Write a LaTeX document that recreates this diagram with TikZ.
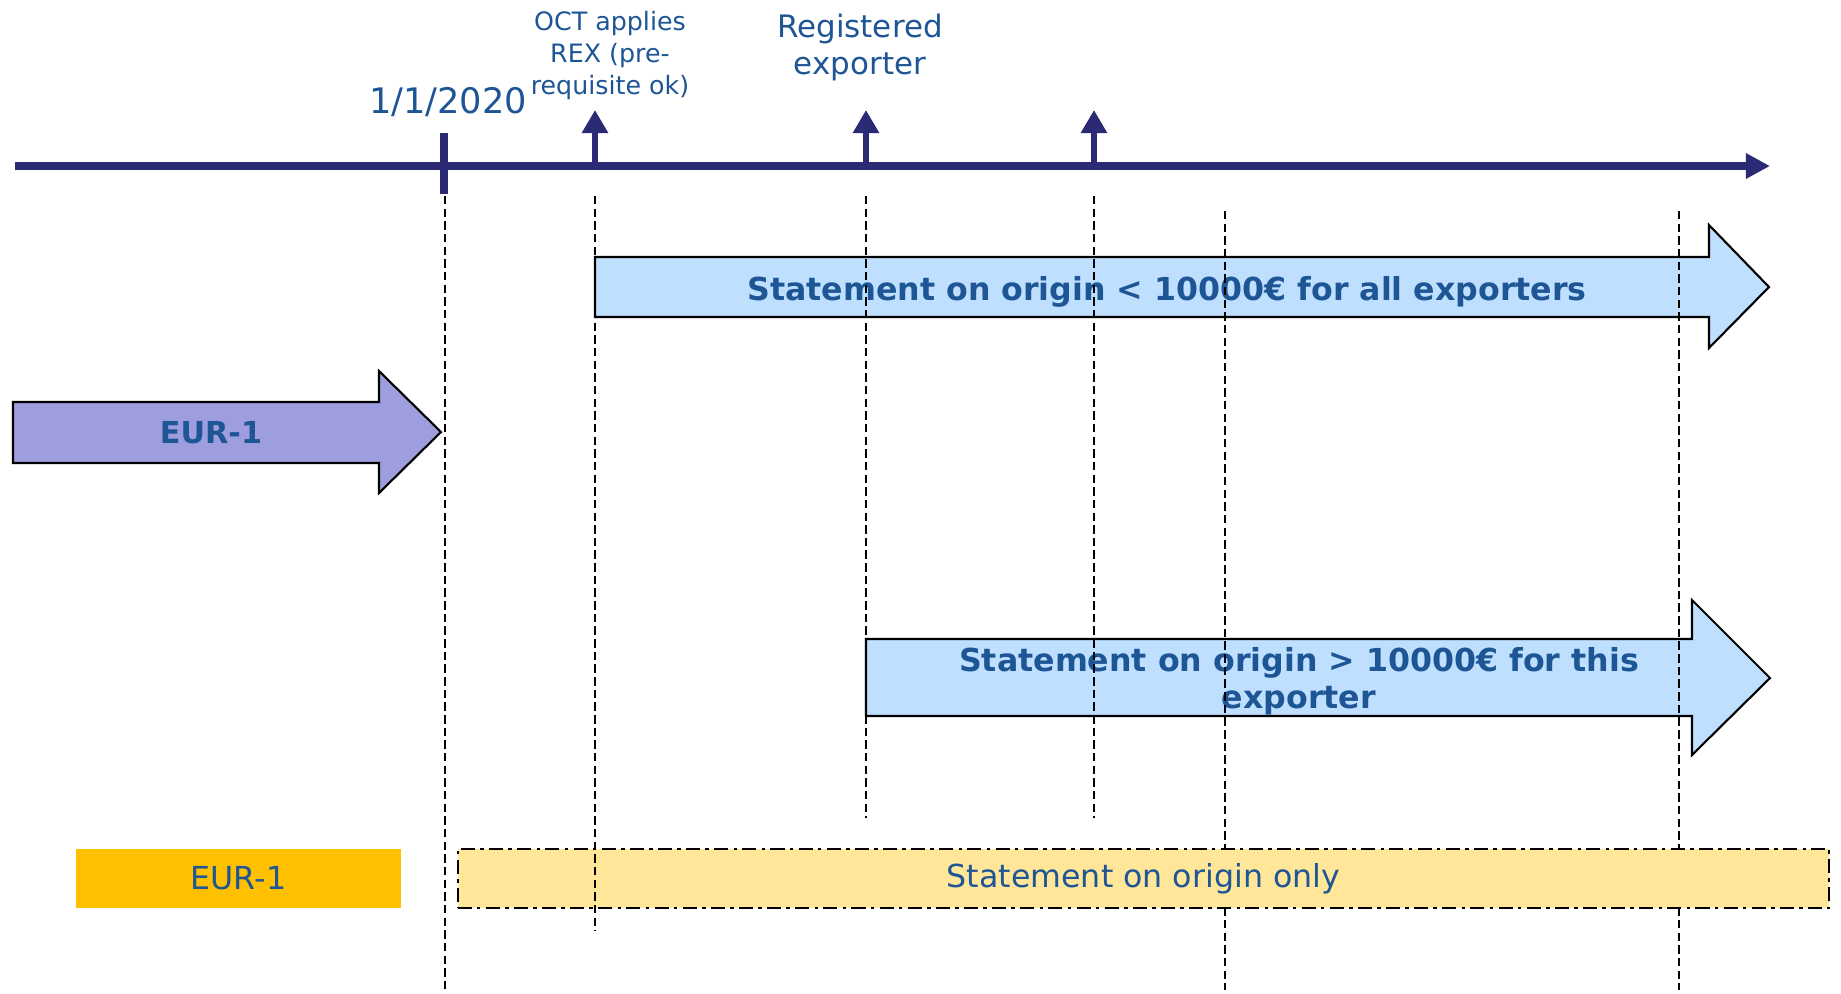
\documentclass[tikz,border=0pt]{standalone}
\usepackage{fontspec}
\setmainfont{DejaVu Sans}
\usetikzlibrary{arrows.meta}
\definecolor{NavyLine}{RGB}{43,42,116}
\definecolor{TextBlue}{RGB}{29,85,149}
\definecolor{SkyFill}{RGB}{191,223,255}
\definecolor{LavFill}{RGB}{158,158,222}
\definecolor{GoldFill}{RGB}{255,192,0}
\definecolor{PaleGold}{RGB}{255,230,153}

\begin{document}
\begin{tikzpicture}[x=0.01cm,y=-0.01cm,
lbl/.style={text=TextBlue,inner sep=0pt,align=center},
boldlbl/.style={lbl,font=\fontsize{9}{10.5}\selectfont\bfseries},
plainlbl/.style={lbl,font=\fontsize{9}{10.5}\selectfont},
bigarrow/.style={draw=black,line width=0.6pt},
guide/.style={line width=0.5pt,dash pattern=on 2.4pt off 1.2pt},
uparrow/.style={NavyLine,line width=1.9pt,-{Triangle[length=0.23cm,width=0.25cm]}}]

\useasboundingbox (0,0) rectangle (1841,993);

% time axis
\coordinate (t0) at (15,166);
\coordinate (t1) at (1770,166);
\draw[NavyLine,line width=2pt,-{Triangle[length=0.24cm,width=0.24cm]}] (t0) -- (t1);
\draw[NavyLine,line width=2pt] (444,133) -- (444,194);
\foreach \x in {595,866,1094}
  \draw[uparrow] (\x,167) -- (\x,110);

\node[lbl,anchor=base,font=\fontsize{10}{12}\selectfont] (date) at (448,113) {1/1/2020};
\node[lbl,anchor=north,font=\fontsize{7.2}{9}\selectfont] (oct) at (610,11) {OCT applies\\REX (pre-\\requisite ok)};
\node[lbl,anchor=north,font=\fontsize{8.8}{10.7}\selectfont] (rex) at (860,13) {Registered\\exporter};

% arrows
\draw[bigarrow,fill=SkyFill] (595,257) -- (1709,257) -- (1709,225) -- (1769,287)
  -- (1709,348) -- (1709,317) -- (595,317) -- cycle;
\node[boldlbl] (small) at (1167,292) {Statement on origin < 10000€ for all exporters};

\draw[bigarrow,fill=LavFill] (13,402) -- (379,402) -- (379,371) -- (441,432)
  -- (379,493) -- (379,463) -- (13,463) -- cycle;
\node[boldlbl,font=\fontsize{8.6}{10}\selectfont\bfseries] (eurold) at (211,433) {EUR-1};

\draw[bigarrow,fill=SkyFill] (866,639) -- (1692,639) -- (1692,600) -- (1770,678)
  -- (1692,755) -- (1692,716) -- (866,716) -- cycle;
\node[boldlbl] (large) at (1299,681) {Statement on origin > 10000€ for this\\exporter};

% guides
\foreach \x in {1225,1679}
  \draw[guide] (\x,211) -- (\x,990);

% bottom bars
\node[plainlbl,fill=GoldFill,minimum width=3.25cm,minimum height=0.59cm] (eurbar) at (238.5,878.5) {EUR-1};
\node[plainlbl,fill=PaleGold,draw=black,line width=0.6pt,dash pattern=on 4pt off 1.5pt on 1pt off 1.5pt,
  minimum width=13.71cm,minimum height=0.59cm] (soobar) at (1143.5,878.5) {Statement on origin only};

\foreach \x/\y in {445/993,595/931,866/818,1094/818}
  \draw[guide] (\x,196) -- (\x,\y);

\end{tikzpicture}
\end{document}
